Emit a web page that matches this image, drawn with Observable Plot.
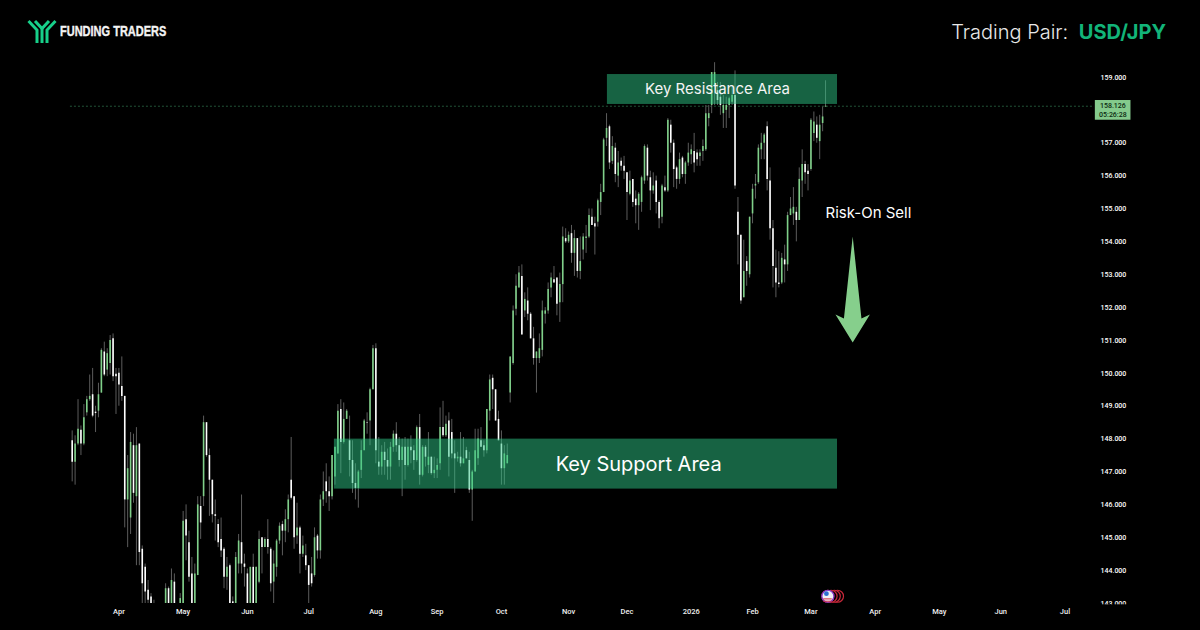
<!DOCTYPE html>
<html><head><meta charset="utf-8">
<script src="https://cdn.jsdelivr.net/npm/d3@7"></script>
<script src="https://cdn.jsdelivr.net/npm/@observablehq/plot@0.6"></script>
<style>
html,body{margin:0;background:#000;width:1200px;height:630px;overflow:hidden}
#head{position:relative;height:60px;width:1200px}
#brand{position:absolute;left:60px;top:22px;font:bold 15.5px "Liberation Sans",sans-serif;color:#f4f4f4;white-space:nowrap;transform:scaleX(.71);transform-origin:left center;-webkit-text-stroke:.4px #f4f4f4}
#pair{position:absolute;right:34px;top:20px;font:300 20px Inter,sans-serif;color:#e8e8e8;white-space:nowrap;opacity:.999}
#pair b{color:#12b479;font-weight:700;margin-left:5px}
#logo{position:absolute;left:27px;top:19px}
svg.plot{display:block;opacity:.999}
</style></head>
<body>
<div id="head">
<svg id="logo" width="30" height="26" viewBox="0 0 30 26" fill="none" stroke="#17d08a" stroke-width="3">
<path d="M1.5 2 L10 11 V24"/><path d="M28.5 2 L20 11 V24"/><path d="M8 2 L15 9.5 L22 2"/><path d="M15 9 V24"/>
</svg>
<div id="brand">FUNDING TRADERS</div>
<div id="pair">Trading Pair: <b>USD/JPY</b></div>
</div>
<div id="chart"></div>
<script>
const opens=[147.95,147.3,147.85,148.27,147.85,148.8,149.2,149.35,148.82,148.85,
149.4,150.65,150.1,150.3,151.05,149.97,150,149.6,149.3,146.15,
145.6,147.8,146.25,147.85,144.65,144.1,143.4,143.2,143,142.6,
142.3,142.5,142.8,143.45,142.9,143.65,142.9,142.9,143,145.55,
144.85,143.9,142.9,143.85,145.95,146.25,148.5,147.5,146.75,145.7,
145.4,144.95,144.65,143.8,144.15,143.05,142.9,144.2,144.85,144.2,
143.9,142.9,144.1,142.9,143.65,145,144.7,144.95,144.65,143.65,
144.1,144.9,145.4,145.2,145.55,146.75,146.25,145.05,145.3,144.5,
144.45,144.15,143.9,143.85,145.05,144.6,146.15,146.7,146.4,146.25,
146.85,147.55,148.9,147.9,148.6,147.95,147.35,146.65,146.5,147.05,
147.65,148.5,148.55,149.5,150.75,147.3,147.15,147.6,147.35,147.15,
147.75,148.15,147.8,147.35,147.75,147.2,147.75,147.65,147.35,148.35,
146.9,147.75,147.2,147.45,146.95,147.05,147.25,148.35,148.1,148.55,
148.2,147.55,147.4,147.45,147.25,147.65,147.35,146.45,147,147.4,
147.95,147.8,147.65,148.85,149.85,149.5,148.6,147.85,147.1,147.25,
149.4,150.3,151.95,152.6,152.95,151.9,152.2,151.8,151.05,150.45,
150.45,150.7,151.8,151.9,152.6,152.85,152.9,152.15,152.7,154.1,
154,154.25,153.65,154.1,153.1,153.75,154.1,154.15,154.75,154.55,
154.6,155.2,155.5,157.15,157.5,156.45,156.85,156,156.45,156.3,
156.1,155.45,155.9,155.3,155.1,155.2,155.85,156.85,155.95,155.55,
155.85,155.2,154.75,155.65,155.55,157.55,157,156.25,155.9,156.55,
156.05,156.4,156.65,156.75,156.7,156.6,156.75,156.8,157.75,158.15,
158.75,158.6,158.4,157.9,158,158.15,158.25,158.45,154.9,154.2,
152.3,153.4,153,154.85,155.7,155.8,156.8,157,157.5,155.85,
154.4,153.2,152.75,152.75,153.45,153.3,154.8,154.85,154.9,154.65,
155.85,156.35,156.15,156.2,157.3,157.55,157.05,157.6,158.1];
const highs=[148.25,148.1,149.2,148.4,149.05,149.3,149.95,150.15,149,149.7,
150.75,150.95,150.75,151.15,151.2,150.15,150.15,150.5,149.3,147.5,
148.2,148.15,148.35,147.85,144.75,144.2,143.7,143.3,143.1,142.8,
142.7,142.8,143.6,143.5,144.05,143.9,142.95,143.3,145.8,146,
145.2,144.4,144.2,146.25,146.25,148.7,148.5,147.7,146.75,146.15,
145.55,145.6,144.7,144.4,144.2,143.2,144.55,145.1,146.3,144.5,
144.05,144.1,144.5,144.1,145.2,145,145,145.55,144.7,144.6,
144.95,145.45,145.5,145.85,146.3,148.05,146.25,146.05,145.35,145.05,
144.8,144.15,144.4,145.3,145.1,146.3,147,147.25,146.85,147.5,
147.75,149.05,149.2,149.1,148.9,148.7,147.95,147.25,147.05,147.95,
148.6,148.8,149.55,150.85,150.9,148.05,147.8,147.9,147.7,147.9,
148.25,148.5,148.05,148,148.05,148,148.1,147.8,148.4,148.75,
147.8,147.8,148.2,147.45,147.45,147.4,148.95,149.15,148.7,148.8,
148.6,147.95,147.6,148.2,148.05,147.75,147.6,147.05,148.3,148.3,
148.35,147.95,148.9,149.95,149.95,149.5,148.85,148.25,147.8,147.85,
150.5,152.05,153,153.25,153.3,152.45,152.6,151.85,151.4,150.65,
151.2,152.2,152,152.75,153.05,153.25,152.9,153.05,154.45,154.4,
154.3,154.5,154.35,154.1,154.15,154.25,154.5,155,155,154.75,
155.3,155.75,157.15,157.9,157.55,157.2,157,156.75,156.55,156.6,
156.1,156.15,155.9,155.55,155.5,156,156.95,156.95,156.15,156.1,
156,155.25,155.75,156,157.75,157.7,157.1,156.3,156.7,156.6,
156.45,157,156.95,157.3,156.8,156.8,157.1,158.15,158.15,159.15,
159.45,158.85,158.85,158.45,158.4,158.4,158.7,159.2,155.35,154.2,
154.05,153.55,154.75,155.75,156.05,156.95,157.3,157.3,157.65,156.25,
154.65,153.75,153.7,153.65,153.9,154.9,155.35,155.65,155.05,156.25,
156.8,156.45,156.35,157.75,157.95,157.8,157.85,158.1,158.9];
const lows=[146.7,146.6,147.8,147.5,147.8,148.7,149.15,148.65,148.2,148.65,
149.4,149.9,149.9,149.95,149.75,148.75,149,149.15,145.3,144.7,
145.1,146.05,144.15,144.15,142.9,142.9,142.9,142.7,142.4,142.1,
142,142.2,142.6,142.6,142.7,142.7,142.5,142.7,142.9,144.3,
143.65,142.8,142.8,143.85,144.95,145.95,147.45,145.65,145.45,144.9,
144.7,144.4,143.45,143.4,142.8,142.6,142.8,143.9,143.9,143.5,
142.8,142.8,142.8,142.8,143.6,143.9,144.7,144.5,143.35,142.9,
143.8,144.8,144.45,144.85,145.15,146.15,144.65,144.8,143.9,144.4,
144,142.9,143.5,143.8,144.35,144.35,145.95,146.05,145.8,146.15,
146.6,147.55,146.95,147.85,148.6,146.85,146.35,146.15,145.9,146.8,
147.65,148.15,147.8,149.5,147.25,146.9,146.9,146.9,146.75,146.75,
147.6,147.6,147.15,146.25,146.75,147.15,147.25,147.05,147.3,146.6,
146.85,147.15,146.95,146.9,146.8,146.8,147.05,148.05,148.05,146.85,
147.4,146.35,147.3,147.15,147.25,147.4,146.35,145.5,147,147.2,
147.75,147.45,147.55,148.55,148.9,148.55,147.95,146.6,146.6,147.25,
149.1,150.25,151.75,152.6,151.17,151.7,151.6,151.05,150.25,149.4,
150.3,150.5,151.5,151.8,152.3,152.75,151.75,151.55,152.15,153.95,
153.95,153.35,152.95,152.9,152.85,153.45,153.65,154.1,154.5,153.6,
154.45,154.8,155.5,156.9,156.2,156.35,155.8,155.65,156.15,155.9,
154.65,155.4,155.05,154.55,154.35,154.9,155.75,155.85,154.95,155.45,
154.85,154.4,154.55,155.5,155.5,156.7,155.65,155.6,155.75,155.95,
155.75,156.3,156.35,156.1,156.3,156.3,156.45,156.75,157.5,157.9,
158.15,158.15,157.85,157.45,157.45,157.75,158.15,155.6,153.3,152.1,
152.3,152.65,152.9,154.55,155.3,155.75,156.5,156.5,155.55,154.05,
152.6,152.3,152.6,152.7,152.75,153.1,154.8,154.5,154,154.65,
155.35,155.75,155.55,156.15,157.05,157,156.5,157.35,158.1];
const closes=[147.3,147.85,148.3,147.85,148.65,149.2,149.3,148.7,148.78,149.35,
150.7,149.95,150.6,151,149.9,149.9,149.65,149.3,146.15,147.1,
147.9,146.35,147.8,144.55,143.6,143.35,143.1,142.9,142.6,142.3,
142.5,142.7,143.45,142.8,143.7,142.9,142.7,143.15,145.5,145.05,
143.8,142.9,143.9,146,145.45,148.5,147.5,146.75,145.7,145.65,
144.85,144.6,143.8,144.1,143,142.8,144.4,144.9,144.2,144.1,
142.9,144.1,142.9,144.1,144.95,144.7,144.95,144.7,143.6,144.2,
144.9,145.35,145.2,145.55,146.15,146.2,145,145.3,144.5,144.75,
144.15,143.55,143.6,145,144.6,146.15,146.4,146.4,146.25,147.5,
147.75,148.85,147.9,148.6,148.85,147.35,146.65,146.5,147,147.65,
148.55,148.48,149.5,150.75,147.65,147.15,147.6,147.35,147.15,147.75,
148.15,147.8,147.35,147.75,147.2,147.75,147.65,147.35,148.35,146.9,
147.75,147.45,147.45,146.95,147.05,147.2,148.35,148.1,148.45,147.45,
147.55,147.4,147.45,147.25,147.4,147.4,146.45,147,147.65,148,
147.75,147.65,148.9,149.8,149.5,148.55,147.95,147.1,147.55,147.5,
150.5,151.9,152.65,153.05,151.17,152.25,151.8,151.05,150.45,150.65,
150.75,151.9,151.9,152.55,152.9,152.75,152.1,152.7,154.15,154,
154.2,153.65,154.1,153.1,153.4,154.15,154.15,154.8,154.5,154.45,
155.25,155.5,157.1,157.45,156.4,156.9,156.05,156.4,156.3,156.15,
155.5,155.85,155.2,155.1,155.45,155.95,156.9,156,155.55,155.7,
155.2,154.7,155.7,155.55,157.7,157,156.2,155.9,156.5,156.05,
156.4,156.7,156.8,156.4,156.5,156.7,156.9,157.9,157.9,159.15,
159.15,158.3,158.15,158.15,158.15,158.35,158.45,155.7,154.2,152.2,
153.1,153.1,154.75,155.6,155.75,156.85,157,157.25,155.9,154.4,
153.25,152.75,152.7,153.5,153.3,154.8,155,155.05,154.65,155.9,
156.35,156.1,156.05,157.7,157.65,157.15,157.55,157.8,158.126];
const monthIdx=[16,38,60,81,104,125,147,170,190,212,233,253,275,297,318,340];
const monthNames=["Apr","May","Jun","Jul","Aug","Sep","Oct","Nov","Dec","2026","Feb","Mar","Apr","May","Jun","Jul"];
const priceTicks=[143,144,145,146,147,148,149,150,151,152,153,154,155,156,157,159];
const lastPrice=158.126;
const arrowX=[267.3,270.3,273.2,267.3,261.4,264.3];
const arrowY=[154.16,151.67,151.79,150.94,151.79,151.67];
const eventX=[262.1,261,259.9,258.8];

const candles=opens.map((o,i)=>({i,o,h:highs[i],l:lows[i],c:closes[i]}));
const arrow=arrowX.map((x,i)=>({x,y:arrowY[i]}));
const sans="Inter,sans-serif", num="Roboto,sans-serif";

const chart=Plot.plot({
  width:1200,height:570,marginLeft:0,marginRight:106,marginTop:0,marginBottom:27,
  style:{background:"#000",color:"#fff",fontFamily:num},
  x:{type:"linear",domain:[-24.55,350.11]},
  y:{type:"linear",domain:[143,159.517]},
  marks:[
    Plot.axisX({ticks:monthIdx,tickSize:0,tickPadding:5,fontSize:7.5,fontWeight:500,fill:"#f0f0f0",tickFormat:d=>monthNames[monthIdx.indexOf(d)],label:null}),
    Plot.axisY({anchor:"right",ticks:priceTicks,tickSize:0,tickPadding:6,fontSize:7,fontWeight:500,fill:"#ffffff",textAnchor:"start",tickFormat:d=>d.toFixed(3),label:null}),
    Plot.rect([{}],{x1:350.4,x2:365,y1:142.6,y2:142.96,fill:"#000"}),
    Plot.ruleY([lastPrice],{x1:-0.6,x2:350.11,stroke:"#2a6a46",strokeWidth:1,strokeDasharray:"2,2",strokeOpacity:.8}),
    Plot.ruleX(candles,{x:"i",y1:"l",y2:"h",stroke:"#5c5c5c",strokeWidth:1,clip:"frame"}),
    Plot.ruleX(candles,{x:"i",y1:"o",y2:"c",stroke:d=>d.c>=d.o?"#7fd089":"#ffffff",strokeWidth:1.6,clip:"frame"}),
    Plot.rect([{a:89.8,b:262.1,t:148,u:146.48}],{x1:"a",x2:"b",y1:"u",y2:"t",fill:"#2ec686",fillOpacity:.5}),
    Plot.rect([{a:183.3,b:262.1,t:159.09,u:158.18}],{x1:"a",x2:"b",y1:"u",y2:"t",fill:"#2ec686",fillOpacity:.5}),
    Plot.text(["Key Support Area"],{x:194,y:147.22,fontFamily:sans,fontSize:20,fill:"#fff",fontWeight:400}),
    Plot.text(["Key Resistance Area"],{x:221,y:158.63,fontFamily:sans,fontSize:15,fill:"#f4f4f4",fontWeight:400}),
    Plot.text(["Risk-On Sell"],{x:272.7,y:154.88,fontFamily:sans,fontSize:15,fill:"#fff"}),
    Plot.line(arrow,{x:"x",y:"y",fill:"#86cf8c",stroke:"none",curve:"linear-closed"}),
    Plot.dot(eventX.map(x=>({x})),{x:"x",y:143.22,r:6,stroke:"#c8283a",strokeWidth:1.2,fill:"#000"}),
    Plot.dot([{x:eventX[3]}],{x:"x",y:143.22,r:6,stroke:"#8438c8",strokeWidth:1.2,fill:"#f0f0f4"}),
    Plot.ruleY([143.14,143.07],{x1:257.4,x2:260.3,stroke:"#d8283a",strokeWidth:1}),
    Plot.dot([{x:258.3}],{x:"x",y:143.3,r:2.4,fill:"#2d6fd0"}),
    Plot.rect([{}],{x1:350.4,x2:362.6,y1:157.7,y2:158.3,fill:"#84ca8c"}),
    Plot.text(["158.126"],{x:356.4,y:158.14,fontSize:7,fontWeight:500,fill:"#0c2a12",fontFamily:num}),
    Plot.text(["05:26:28"],{x:356.4,y:157.88,fontSize:7,fontWeight:500,fill:"#0c2a12",fontFamily:num})
  ]
});
document.getElementById("chart").append(chart);
</script>
</body></html>
